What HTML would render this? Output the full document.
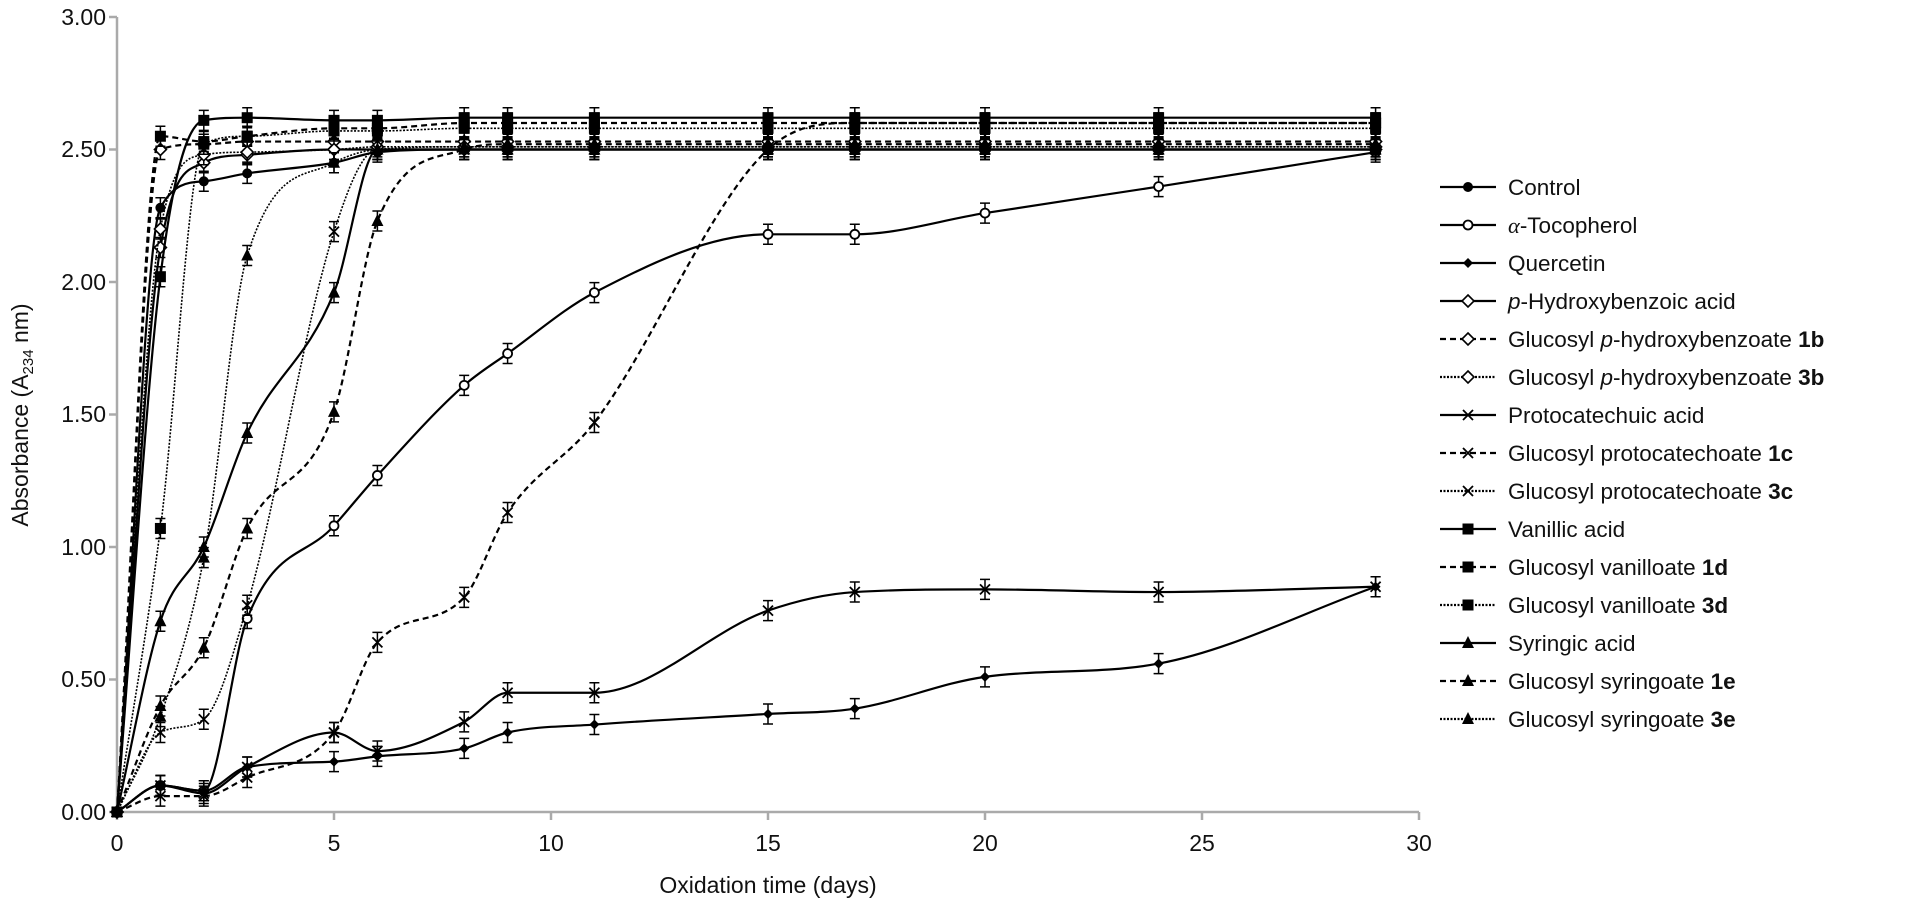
<!DOCTYPE html>
<html><head><meta charset="utf-8"><style>
body{margin:0;background:#fff;}
svg text{font-family:"Liberation Sans",sans-serif;fill:#111;}
</style></head><body>
<svg id="s" width="1930" height="905" xmlns="http://www.w3.org/2000/svg">
<g stroke="#aaa" stroke-width="2.5" fill="none">
<line x1="117" y1="17" x2="117" y2="812"/>
<line x1="117" y1="812" x2="1419" y2="812"/>
<line x1="109" y1="17" x2="117" y2="17"/><line x1="109" y1="149.5" x2="117" y2="149.5"/>
<line x1="109" y1="282" x2="117" y2="282"/><line x1="109" y1="414.5" x2="117" y2="414.5"/>
<line x1="109" y1="547" x2="117" y2="547"/><line x1="109" y1="679.5" x2="117" y2="679.5"/>
<line x1="109" y1="812" x2="117" y2="812"/>
<line x1="117" y1="812" x2="117" y2="820"/><line x1="334" y1="812" x2="334" y2="820"/>
<line x1="551" y1="812" x2="551" y2="820"/><line x1="768" y1="812" x2="768" y2="820"/>
<line x1="985" y1="812" x2="985" y2="820"/><line x1="1202" y1="812" x2="1202" y2="820"/>
<line x1="1419" y1="812" x2="1419" y2="820"/>
</g>
<g font-size="23" text-anchor="end">
<text x="106" y="25">3.00</text><text x="106" y="157">2.50</text><text x="106" y="290">2.00</text>
<text x="106" y="422">1.50</text><text x="106" y="555">1.00</text><text x="106" y="687">0.50</text>
<text x="106" y="820">0.00</text>
</g>
<g font-size="23" text-anchor="middle">
<text x="117" y="851">0</text><text x="334" y="851">5</text><text x="551" y="851">10</text>
<text x="768" y="851">15</text><text x="985" y="851">20</text><text x="1202" y="851">25</text>
<text x="1419" y="851">30</text>
<text x="768" y="893">Oxidation time (days)</text>
</g>
<text font-size="23" text-anchor="middle" transform="translate(28,415) rotate(-90)">Absorbance (A<tspan font-size="15" dy="5">234</tspan><tspan dy="-5"> nm)</tspan></text>
<g id="curves"></g>
<g id="leg"></g>
<g font-size="22.5">
<text x="1508" y="195">Control</text>
<text x="1508" y="233"><tspan font-family="Liberation Serif" font-style="italic">α</tspan>-Tocopherol</text>
<text x="1508" y="271">Quercetin</text>
<text x="1508" y="309"><tspan font-style="italic">p</tspan>-Hydroxybenzoic acid</text>
<text x="1508" y="347">Glucosyl <tspan font-style="italic">p</tspan>-hydroxybenzoate <tspan font-weight="bold">1b</tspan></text>
<text x="1508" y="385">Glucosyl <tspan font-style="italic">p</tspan>-hydroxybenzoate <tspan font-weight="bold">3b</tspan></text>
<text x="1508" y="423">Protocatechuic acid</text>
<text x="1508" y="461">Glucosyl protocatechoate <tspan font-weight="bold">1c</tspan></text>
<text x="1508" y="499">Glucosyl protocatechoate <tspan font-weight="bold">3c</tspan></text>
<text x="1508" y="537">Vanillic acid</text>
<text x="1508" y="575">Glucosyl vanilloate <tspan font-weight="bold">1d</tspan></text>
<text x="1508" y="613">Glucosyl vanilloate <tspan font-weight="bold">3d</tspan></text>
<text x="1508" y="651">Syringic acid</text>
<text x="1508" y="689">Glucosyl syringoate <tspan font-weight="bold">1e</tspan></text>
<text x="1508" y="727">Glucosyl syringoate <tspan font-weight="bold">3e</tspan></text>
</g>
</svg>
<script>
var T=[0,1,2,3,5,6,8,9,11,15,17,20,24,29];
function X(t){return 117+t*43.4;}function Y(v){return 812-v*265;}
var S=[
["s","c",[0,2.28,2.38,2.41,2.45,2.49,2.5,2.5,2.5,2.5,2.5,2.5,2.5,2.5]],
["s","o",[0,0.1,0.08,0.73,1.08,1.27,1.61,1.73,1.96,2.18,2.18,2.26,2.36,2.49]],
["s","d",[0,0.1,0.08,0.17,0.19,0.21,0.24,0.30,0.33,0.37,0.39,0.51,0.56,0.85]],
["s","od",[0,2.13,2.45,2.48,2.5,2.5,2.5,2.5,2.5,2.5,2.5,2.5,2.5,2.5]],
["a","od",[0,2.5,2.52,2.53,2.53,2.53,2.53,2.53,2.53,2.53,2.53,2.53,2.53,2.53]],
["o","od",[0,2.2,2.48,2.49,2.5,2.51,2.51,2.51,2.51,2.51,2.51,2.51,2.51,2.51]],
["s","x",[0,0.1,0.07,0.17,0.30,0.23,0.34,0.45,0.45,0.76,0.83,0.84,0.83,0.85]],
["a","x",[0,0.06,0.06,0.13,0.30,0.64,0.81,1.13,1.47,2.5,2.6,2.6,2.6,2.6]],
["o","x",[0,0.3,0.35,0.78,2.19,2.5,2.5,2.5,2.5,2.5,2.5,2.5,2.5,2.5]],
["s","q",[0,2.02,2.61,2.62,2.61,2.61,2.62,2.62,2.62,2.62,2.62,2.62,2.62,2.62]],
["a","q",[0,2.55,2.53,2.55,2.58,2.58,2.6,2.6,2.6,2.6,2.6,2.6,2.6,2.6]],
["o","q",[0,1.07,2.52,2.55,2.57,2.57,2.58,2.58,2.58,2.58,2.58,2.58,2.58,2.58]],
["s","t",[0,0.72,1.0,1.43,1.96,2.5,2.5,2.5,2.5,2.5,2.5,2.5,2.5,2.5]],
["a","t",[0,0.40,0.62,1.07,1.51,2.23,2.5,2.52,2.52,2.52,2.52,2.52,2.52,2.52]],
["o","t",[0,0.36,0.96,2.1,2.45,2.5,2.51,2.51,2.51,2.51,2.51,2.51,2.51,2.51]]];
var dash={s:"",a:"6,4",o:"2,1.5"};
function mk(m,x,y,r){r=r||5;
 if(m=="c")return '<circle cx="'+x+'" cy="'+y+'" r="'+r+'" fill="#000"/>';
 if(m=="o")return '<circle cx="'+x+'" cy="'+y+'" r="'+(r-0.5)+'" fill="#fff" stroke="#000" stroke-width="1.8"/>';
 if(m=="d")return '<path d="M'+x+' '+(y-5)+'L'+(x+5)+' '+y+'L'+x+' '+(y+5)+'L'+(x-5)+' '+y+'Z" fill="#000"/>';
 if(m=="od")return '<path d="M'+x+' '+(y-6)+'L'+(x+6)+' '+y+'L'+x+' '+(y+6)+'L'+(x-6)+' '+y+'Z" fill="#fff" stroke="#000" stroke-width="1.6"/>';
 if(m=="x")return '<path d="M'+(x-5)+' '+(y-5)+'L'+(x+5)+' '+(y+5)+'M'+(x+5)+' '+(y-5)+'L'+(x-5)+' '+(y+5)+'" stroke="#000" stroke-width="1.8"/>';
 if(m=="q")return '<rect x="'+(x-5.5)+'" y="'+(y-5.5)+'" width="11" height="11" fill="#000"/>';
 if(m=="t")return '<path d="M'+x+' '+(y-7)+'L'+(x+6)+' '+(y+5)+'L'+(x-6)+' '+(y+5)+'Z" fill="#000"/>';}
function mono(P){var n=P.length,dl=[],m=[];
 for(var i=0;i<n-1;i++)dl.push((P[i+1][1]-P[i][1])/(P[i+1][0]-P[i][0]));
 m[0]=dl[0];m[n-1]=dl[n-2];
 for(i=1;i<n-1;i++){m[i]=(dl[i-1]*dl[i]<=0)?0:(dl[i-1]+dl[i])/2;}
 for(i=0;i<n-1;i++){if(dl[i]==0){m[i]=0;m[i+1]=0;continue;}
  var a=m[i]/dl[i],b=m[i+1]/dl[i],s=a*a+b*b;if(s>9){var t=3/Math.sqrt(s);m[i]=t*a*dl[i];m[i+1]=t*b*dl[i];}}
 var d="M"+P[0][0]+" "+P[0][1];
 for(i=0;i<n-1;i++){var h=(P[i+1][0]-P[i][0])/3;
  d+="C"+(P[i][0]+h)+" "+(P[i][1]+m[i]*h)+" "+(P[i+1][0]-h)+" "+(P[i+1][1]-m[i+1]*h)+" "+P[i+1][0]+" "+P[i+1][1];}
 return d;}
var h="";
S.forEach(function(s){var P=T.map(function(t,i){return [X(t),Y(s[2][i])];});
 h+='<path d="'+mono(P)+'" fill="none" stroke="#000" stroke-width="'+(s[0]=="o"?1.6:2.2)+'" stroke-dasharray="'+dash[s[0]]+'"/>';
 P.forEach(function(p,i){if(i>0){h+='<path d="M'+p[0]+' '+(p[1]-10)+'V'+(p[1]+10)+'M'+(p[0]-5)+' '+(p[1]-10)+'H'+(p[0]+5)+'M'+(p[0]-5)+' '+(p[1]+10)+'H'+(p[0]+5)+'" stroke="#000" stroke-width="1.5"/>';}
  h+=mk(s[1],p[0],p[1]);});});
document.getElementById("curves").innerHTML=h;
var g="";S.forEach(function(s,i){var y=187+i*38;
 g+='<line x1="1440" y1="'+y+'" x2="1496" y2="'+y+'" stroke="#000" stroke-width="2.2" stroke-dasharray="'+dash[s[0]]+'"/>'+mk(s[1],1468,y);});
document.getElementById("leg").innerHTML=g;
</script>
</body></html>
